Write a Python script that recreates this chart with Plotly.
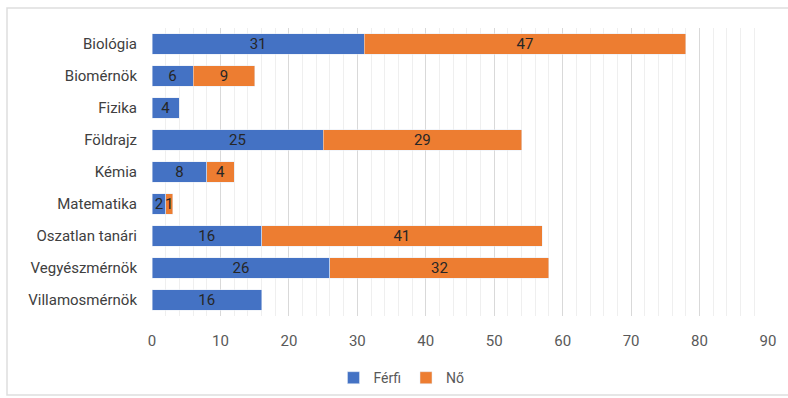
import plotly.graph_objects as go

categories = ["Biológia", "Biomérnök", "Fizika", "Földrajz", "Kémia", "Matematika",
              "Oszatlan tanári", "Vegyészmérnök", "Villamosmérnök"]
ferfi = [31, 6, 4, 25, 8, 2, 16, 26, 16]
no = [47, 9, None, 29, 4, 1, 41, 32, None]

font_family = "Roboto, Noto Sans, sans-serif"
W, H = 788, 398
ML, MR, MT, MB = 152, 20, 28, 82
pw, ph = W - ML - MR, H - MT - MB

fig = go.Figure()
fig.add_trace(go.Bar(
    y=categories, x=ferfi, name="Férfi", orientation="h",
    marker=dict(color="#4472C4"),
    text=[str(v) if v else "" for v in ferfi], textposition="inside", textangle=0,
    insidetextanchor="middle", constraintext="none",
    textfont=dict(color="#262626", size=15, family=font_family),
))
fig.add_trace(go.Bar(
    y=categories, x=no, name="Nő", orientation="h",
    marker=dict(color="#ED7D31"),
    text=[str(v) if v else "" for v in no], textposition="inside", textangle=0,
    insidetextanchor="middle", constraintext="none",
    textfont=dict(color="#262626", size=15, family=font_family),
))
# faint chart-area border
fig.add_shape(type="rect", xref="paper", yref="paper",
              x0=(7 - ML) / pw, x1=(795 - ML) / pw,
              y0=(H - MB - 395) / ph, y1=1 + (MT - 8) / ph,
              line=dict(color="#dedede", width=1.5), layer="below")
fig.update_layout(
    barmode="stack",
    width=W, height=H,
    margin=dict(l=ML, r=MR, t=MT, b=MB),
    paper_bgcolor="white", plot_bgcolor="white",
    bargap=0.36,
    font=dict(family=font_family, color="#595959", size=15),
    legend=dict(orientation="h", x=0.405, xanchor="center", yref="container",
                y=0.05, yanchor="middle",
                font=dict(size=14, color="#595959"), traceorder="normal",
                itemwidth=30, entrywidth=0),
    showlegend=True,
)
fig.update_xaxes(range=[0, 90], dtick=10, showgrid=True, gridcolor="#d9d9d9",
                 minor=dict(dtick=2, showgrid=True, gridcolor="#efefef"),
                 zeroline=False, showline=False, ticks="", ticklabelstandoff=14,
                 tickfont=dict(size=15, color="#595959"))
fig.update_yaxes(autorange="reversed", showgrid=False, ticks="", ticklabelstandoff=14,
                 tickfont=dict(size=15, color="#404040"))
fig.write_html("out.html")
